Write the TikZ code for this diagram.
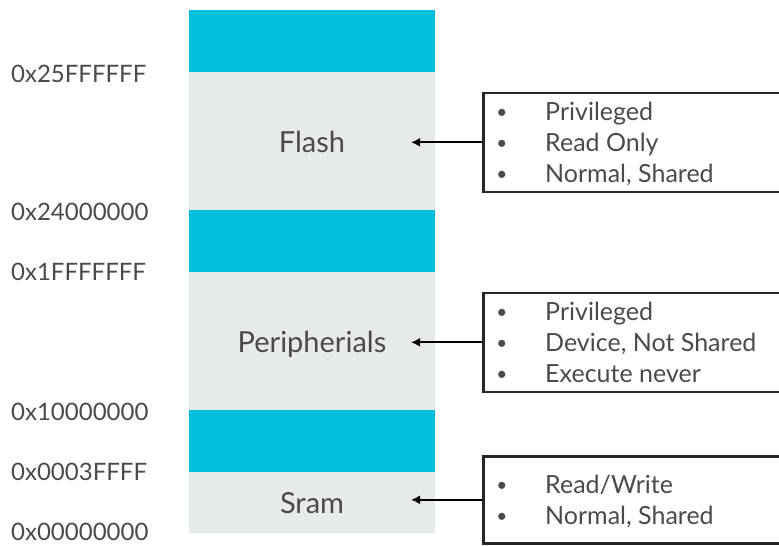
\documentclass[tikz,border=0pt]{standalone}
\usepackage{fontspec}
\setmainfont{Lato}
\usetikzlibrary{arrows.meta}
\definecolor{bandcyan}{HTML}{00BFDC}
\definecolor{bandgrey}{HTML}{E6EAEA}
\definecolor{txt}{HTML}{4A4A4A}
\begin{document}
\begin{tikzpicture}[x=1pt,y=-1pt,
  band/.style={rectangle, inner sep=0pt, outer sep=0pt, anchor=north west, minimum width=246pt},
  cyanband/.style={band, fill=bandcyan},
  greyband/.style={band, fill=bandgrey},
  addr/.style={anchor=base west, inner sep=0pt, text=txt, font=\fontsize{24}{28}\selectfont},
  region/.style={anchor=base, inner sep=0pt, text=txt, font=\fontsize{29}{33}\selectfont},
  infobox/.style={rectangle, draw=black!85, line width=2.6pt, anchor=north west, minimum width=320pt, inner sep=0pt},
  bul/.style={anchor=base, inner sep=0pt, text=txt, font=\fontsize{19}{30}\selectfont},
  item/.style={anchor=base west, inner sep=0pt, text=txt, font=\fontsize{25}{30}\selectfont},
  arr/.style={draw=black, line width=2pt, -{Latex[length=9pt,width=9pt]}}]
\useasboundingbox (0,0) rectangle (779,546);
\clip (0,0) rectangle (779,546);
% column
\node[cyanband, minimum height=62pt] (c1) at (189,10) {};
\node[greyband, minimum height=138pt] (g1) at (189,72) {};
\node[cyanband, minimum height=62pt] (c2) at (189,210) {};
\node[greyband, minimum height=138pt] (g2) at (189,272) {};
\node[cyanband, minimum height=62pt] (c3) at (189,410) {};
\node[greyband, minimum height=61pt] (g3) at (189,472) {};
% region labels
\node[region] (flash) at (312,152) {Flash};
\node[region] (periph) at (312,352) {Peripherials};
\node[region] (sram) at (312,513) {Sram};
% addresses
\node[addr] (a1) at (11,82) {0x25FFFFFF};
\node[addr] (a2) at (11,220) {0x24000000};
\node[addr] (a3) at (11,280) {0x1FFFFFFF};
\node[addr] (a4) at (11,420) {0x10000000};
\node[addr] (a5) at (11,480) {0x0003FFFF};
\node[addr] (a6) at (11,540) {0x00000000};
% info boxes
\node[infobox, minimum height=99pt] (b1) at (482,91.5) {};
\node[infobox, minimum height=99pt] (b2) at (482,291.5) {};
\node[infobox, minimum height=87pt] (b3) at (482,455) {};
% box 1 text
\node[bul] (b1u1) at (502,118) {•};
\node[item] (b1t1) at (545,120) {Privileged};
\node[bul] (b1u2) at (502,149) {•};
\node[item] (b1t2) at (545,151) {Read Only};
\node[bul] (b1u3) at (502,180) {•};
\node[item] (b1t3) at (545,182) {Normal, Shared};
% box 2 text
\node[bul] (b2u1) at (502,318) {•};
\node[item] (b2t1) at (545,320) {Privileged};
\node[bul] (b2u2) at (502,349) {•};
\node[item] (b2t2) at (545,351) {Device, Not Shared};
\node[bul] (b2u3) at (502,380) {•};
\node[item] (b2t3) at (545,382) {Execute never};
% box 3 text
\node[bul] (b3u1) at (502,491) {•};
\node[item] (b3t1) at (545,493) {Read/Write};
\node[bul] (b3u2) at (502,522) {•};
\node[item] (b3t2) at (545,524) {Normal, Shared};
% arrows
\coordinate (tip) at (411,0);
\draw[arr] (b1.west) -- (b1.west -| tip);
\draw[arr] (b2.west) -- (b2.west -| tip);
\draw[arr] (b3.west) -- (b3.west -| tip);
\end{tikzpicture}
\end{document}
